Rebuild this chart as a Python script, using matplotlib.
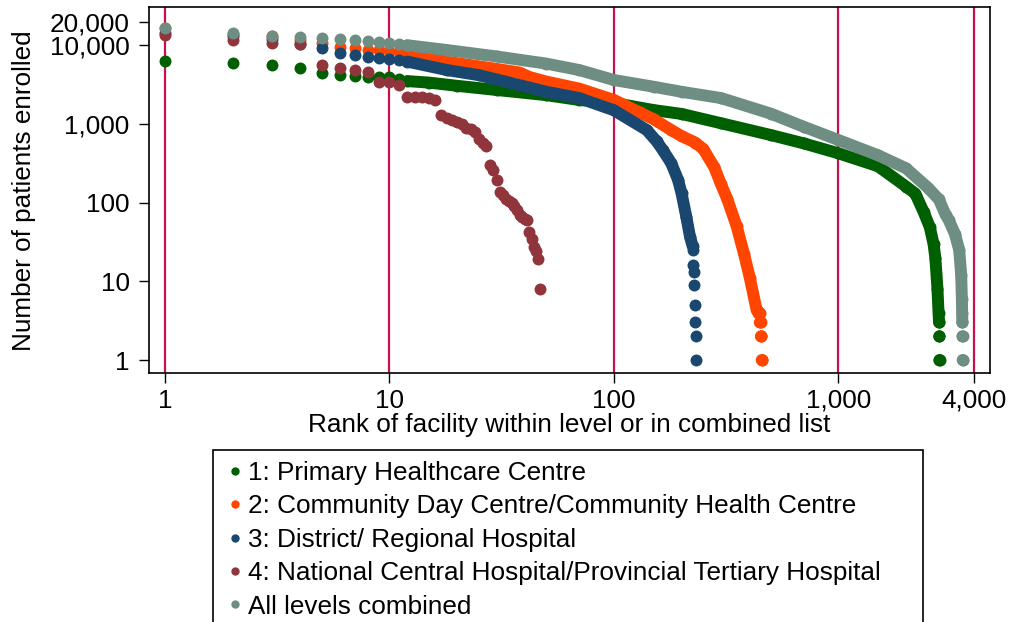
import matplotlib
matplotlib.use('Agg')
import matplotlib.pyplot as plt
from matplotlib.lines import Line2D
from matplotlib.patches import Rectangle
import numpy as np

plt.rcParams['font.family'] = ['Liberation Sans', 'DejaVu Sans']

series_labels = ['1: Primary Healthcare Centre',
                 '2: Community Day Centre/Community Health Centre',
                 '3: District/ Regional Hospital',
                 '4: National Central Hospital/Provincial Tertiary Hospital',
                 'All levels combined']
series_colors = ['#005f00', '#ff4500', '#1a476f', '#90353b', '#6e8e84']

# rank of facility -> patients enrolled (dense runs of
# facilities are given as anchor ranks)
primary_rank = [1, 2, 3, 4, 5, 6, 7, 8, 9, 10, 11, 12, 15, 20, 30, 50, 70, 100, 150, 200,
                300, 500, 700, 1000, 1500, 2000, 2200, 2400, 2550, 2650, 2700, 2760, 2790,
                2805, 2809, 2810, 2815, 2816, 2825]
primary_value = [6300, 6000, 5560, 5080, 4400, 4200, 4100, 4000, 4000, 3950, 3700, 3500, 3350,
                 3050, 2700, 2320, 2015, 1850, 1500, 1340, 1020, 722, 566, 423, 290, 160, 130,
                 75, 49, 30, 20, 8, 4, 3, 3, 2, 2, 1, 1]

community_rank = [1, 2, 3, 4, 5, 6, 7, 8, 9, 10, 11, 12, 18, 30, 38, 42, 50, 70, 100, 130,
                  150, 180, 200, 230, 250, 280, 300, 320, 352, 380, 403, 432, 440, 445, 446,
                  450, 451, 454, 455, 458]
community_value = [16500, 14000, 13000, 11600, 10570, 9600, 9120, 8690, 8690, 8500, 8200, 7900,
                   6170, 5000, 4500, 3950, 3450, 2810, 2015, 1400, 1150, 836, 700, 580, 480,
                   280, 170, 110, 50, 22, 11, 4.3, 4, 4, 3, 3, 2, 2, 1, 1]

district_rank = [1, 2, 3, 4, 5, 6, 7, 8, 9, 10, 11, 12, 18, 25, 35, 50, 70, 100, 140, 155, 165,
                 180, 193, 200, 210, 218, 224, 225, 226, 227, 228, 229, 230, 231, 232]
district_value = [14300, 13000, 12000, 10500, 9120, 7880, 7500, 7150, 6800, 6620, 6400, 6200,
                  4840, 4170, 3300, 2560, 2130, 1490, 836, 600, 466, 316, 194, 131, 66, 37, 28,
                  25, 16, 13, 9, 5, 3, 2, 1]

national_rank = list(range(1, 48))
national_value = [13500, 11600, 10700, 10350, 5600, 5100, 4850, 4600, 3450, 3400, 3100, 2200,
                  2200, 2180, 2150, 2000, 1300, 1200, 1120, 1060, 1000, 900, 850, 780, 640, 580,
                  520, 300, 260, 195, 135, 125, 110, 105, 100, 90, 80, 70, 65, 62, 60, 42, 35,
                  27, 24, 19, 8]

all_rank = [1, 2, 3, 4, 5, 6, 7, 8, 9, 10, 11, 12, 18, 30, 50, 70, 100, 150, 200, 300, 500,
            700, 1000, 1500, 2000, 2500, 2800, 3000, 3100, 3300, 3450, 3520, 3545, 3555, 3560,
            3565, 3566, 3570, 3571, 3580]
all_value = [16550, 14290, 13200, 12800, 12200, 12100, 11640, 11400, 11100, 10570, 10300, 10000,
             8690, 7200, 5840, 4840, 3610, 2970, 2560, 2130, 1350, 920, 624, 400, 273, 155, 110,
             70, 60, 40, 25, 12, 6, 4, 3, 3, 2, 2, 1, 1]

xlines = [1, 10, 100, 1000, 4000]
xticks = [1, 10, 100, 1000, 4000]
xtick_labels = ['1', '10', '100', '1,000', '4,000']
yticks = [1, 10, 100, 1000, 10000, 20000]
ytick_labels = ['1', '10', '100', '1,000', '10,000', '20,000']

MS = 8.6
FS = 18.8


def band(ranks, values):
    # neighbouring facilities stay separate dots; gaps between anchor ranks
    # are filled by a stroke as wide as a dot
    xs, ys = [], []
    for i in range(len(ranks)):
        if i > 0 and ranks[i] - ranks[i - 1] <= 1:
            xs.append(np.nan)
            ys.append(np.nan)
        xs.append(ranks[i])
        ys.append(values[i])
    return xs, ys


fig = plt.figure(figsize=(10.1, 6.22), dpi=100)
ax = fig.add_axes([149 / 1010, 1 - 373.3 / 622, (990 - 149) / 1010, (373.3 - 7.3) / 622])
ax.set_xscale('log')
ax.set_yscale('log')

for xv in xlines:
    ax.axvline(xv, color='#c8104a', lw=1.6, zorder=1)

data = [(primary_rank, primary_value), (community_rank, community_value),
        (district_rank, district_value), (national_rank, national_value),
        (all_rank, all_value)]
for k, ((r, v), c) in enumerate(zip(data, series_colors)):
    bx, by = band(r, v)
    ax.plot(bx, by, '-', color=c, lw=MS, solid_capstyle='round', solid_joinstyle='round',
            zorder=2 + k)
    ax.plot(r, v, 'o', color=c, ms=MS, mew=0, zorder=2 + k)

ax.set_xlim(0.849, 4730)
ax.set_ylim(0.678, 30340)
ax.set_xticks(xticks)
ax.set_xticklabels(xtick_labels)
ax.set_yticks(yticks)
ax.set_yticklabels(ytick_labels)
ax.minorticks_off()
ax.tick_params(axis='both', which='major', direction='out', length=7, width=1,
               labelsize=FS, color='black')
ax.tick_params(axis='y', pad=7)
ax.tick_params(axis='x', pad=4)
for s in ax.spines.values():
    s.set_linewidth(1.2)

ax.set_xlabel('Rank of facility within level or in combined list', fontsize=FS, labelpad=0)
ax.set_ylabel('Number of patients enrolled', fontsize=FS, labelpad=10)

handles = [Line2D([], [], marker='o', ls='none', color=c, ms=6, mew=0) for c in series_colors]
fig.legend(handles, series_labels, loc='upper left', bbox_to_anchor=(228 / 1010, 1 - 461 / 622),
           frameon=False, fontsize=FS, handlelength=0.5, handletextpad=0.25,
           labelspacing=0.36, borderpad=0, borderaxespad=0)
fig.patches.append(Rectangle((212.7 / 1010, -0.05), (922.7 - 212.7) / 1010, 0.05 + 1 - 450 / 622,
                             transform=fig.transFigure, fill=False, ec='black', lw=1.2))

fig.savefig('out.png', dpi=100)
